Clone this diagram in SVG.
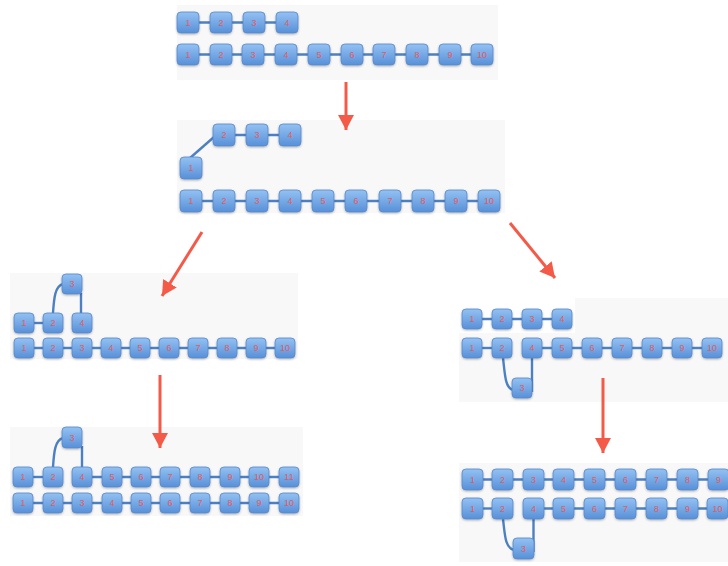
<svg xmlns="http://www.w3.org/2000/svg" width="728" height="566" viewBox="0 0 728 566">
  <defs>
    <linearGradient id="boxFill" x1="0" y1="0" x2="0" y2="1">
      <stop offset="0" stop-color="#93c1f2"/>
      <stop offset="1" stop-color="#5890d8"/>
    </linearGradient>
    <filter id="shadow" x="-20%" y="-20%" width="140%" height="150%">
      <feDropShadow dx="0" dy="1" stdDeviation="0.8" flood-color="#000" flood-opacity="0.3"/>
    </filter>
    <marker id="head" markerUnits="userSpaceOnUse" markerWidth="17" markerHeight="17" refX="15" refY="8" orient="auto">
      <path d="M0,0 L15,8 L0,16 Z" fill="#f45a48"/>
    </marker>
  </defs>
  <style>
    .panel { fill: #f8f8f8; }
    .box { fill: url(#boxFill); stroke: #5588cc; stroke-width: 0.8; filter: url(#shadow); }
    .lbl { font-family: "Liberation Sans", Arial, sans-serif; font-size: 9px; fill: #e35a5f; text-anchor: middle; dominant-baseline: central; }
    .link { stroke: #4d80c2; stroke-width: 2.4; fill: none; }
    .arrow { stroke: #f45a48; stroke-width: 3; fill: none; marker-end: url(#head); }
  </style>

  <!-- panel backgrounds -->
  <g id="backgrounds">
    <rect class="panel" x="177" y="5" width="321" height="75"/>
    <rect class="panel" x="177" y="120" width="328" height="93"/>
    <rect class="panel" x="10" y="273" width="288" height="86"/>
    <rect class="panel" x="10" y="427" width="293" height="89"/>
    <rect class="panel" x="575" y="298" width="153" height="104"/>
    <rect class="panel" x="459" y="333" width="269" height="69"/>
    <rect class="panel" x="459" y="463" width="269" height="99"/>
  </g>

  <!-- connectors -->
  <g id="connectors">
    <!-- panel 1 -->
    <line class="link" x1="188" y1="22.5" x2="287" y2="22.5"/>
    <line class="link" x1="188" y1="54.5" x2="482" y2="54.5"/>
    <!-- panel 2 -->
    <line class="link" x1="190" y1="158" x2="214" y2="137"/>
    <line class="link" x1="224" y1="135" x2="290" y2="135"/>
    <line class="link" x1="191" y1="201" x2="489" y2="201"/>
    <!-- panel 3 -->
    <line class="link" x1="24" y1="323" x2="53" y2="323"/>
    <path class="link" d="M53,313 C54,298 55,286 63,284"/>
    <line class="link" x1="81" y1="313" x2="81" y2="293"/>
    <line class="link" x1="24" y1="348" x2="285" y2="348"/>
    <!-- panel 4 -->
    <line class="link" x1="23" y1="477" x2="53" y2="477"/>
    <path class="link" d="M53,467 C54,452 55,440 63,438"/>
    <line class="link" x1="82" y1="467" x2="82" y2="446"/>
    <line class="link" x1="82" y1="477" x2="289" y2="477"/>
    <line class="link" x1="23" y1="503" x2="289" y2="503"/>
    <!-- panel 5 -->
    <line class="link" x1="472" y1="319" x2="562" y2="319"/>
    <line class="link" x1="472" y1="348" x2="502" y2="348"/>
    <line class="link" x1="532" y1="348" x2="712" y2="348"/>
    <path class="link" d="M503,358 C505,374 505,388 513,390"/>
    <line class="link" x1="532" y1="358" x2="532" y2="392"/>
    <!-- panel 6 -->
    <line class="link" x1="472" y1="479.5" x2="718" y2="479.5"/>
    <line class="link" x1="472" y1="508.5" x2="502" y2="508.5"/>
    <line class="link" x1="533" y1="508.5" x2="717" y2="508.5"/>
    <path class="link" d="M503,519 C505,535 505,548 514,550"/>
    <line class="link" x1="533.5" y1="519" x2="533.5" y2="552"/>
  </g>

  <!-- arrows between stages -->
  <g id="arrows">
    <line class="arrow" x1="346" y1="82" x2="346" y2="130"/>
    <line class="arrow" x1="202" y1="232" x2="162" y2="296"/>
    <line class="arrow" x1="510" y1="223" x2="555" y2="278"/>
    <line class="arrow" x1="160" y1="375" x2="160" y2="448"/>
    <line class="arrow" x1="603" y1="378" x2="603" y2="453"/>
  </g>

  <!-- stage 1 -->
  <g id="p1a1"><rect class="box" x="177" y="12" width="22" height="21" rx="4"/><text class="lbl" x="188" y="22.5">1</text></g>
  <g id="p1a2"><rect class="box" x="210" y="12" width="22" height="21" rx="4"/><text class="lbl" x="221" y="22.5">2</text></g>
  <g id="p1a3"><rect class="box" x="243" y="12" width="22" height="21" rx="4"/><text class="lbl" x="254" y="22.5">3</text></g>
  <g id="p1a4"><rect class="box" x="276" y="12" width="22" height="21" rx="4"/><text class="lbl" x="287" y="22.5">4</text></g>
  <g id="p1b1"><rect class="box" x="177" y="44" width="22" height="21" rx="4"/><text class="lbl" x="188" y="54.5">1</text></g>
  <g id="p1b2"><rect class="box" x="210" y="44" width="22" height="21" rx="4"/><text class="lbl" x="221" y="54.5">2</text></g>
  <g id="p1b3"><rect class="box" x="242" y="44" width="22" height="21" rx="4"/><text class="lbl" x="253" y="54.5">3</text></g>
  <g id="p1b4"><rect class="box" x="275" y="44" width="22" height="21" rx="4"/><text class="lbl" x="286" y="54.5">4</text></g>
  <g id="p1b5"><rect class="box" x="308" y="44" width="22" height="21" rx="4"/><text class="lbl" x="319" y="54.5">5</text></g>
  <g id="p1b6"><rect class="box" x="341" y="44" width="22" height="21" rx="4"/><text class="lbl" x="352" y="54.5">6</text></g>
  <g id="p1b7"><rect class="box" x="373" y="44" width="22" height="21" rx="4"/><text class="lbl" x="384" y="54.5">7</text></g>
  <g id="p1b8"><rect class="box" x="406" y="44" width="22" height="21" rx="4"/><text class="lbl" x="417" y="54.5">8</text></g>
  <g id="p1b9"><rect class="box" x="439" y="44" width="22" height="21" rx="4"/><text class="lbl" x="450" y="54.5">9</text></g>
  <g id="p1b10"><rect class="box" x="471" y="44" width="22" height="21" rx="4"/><text class="lbl" x="482" y="54.5">10</text></g>

  <!-- stage 2 -->
  <g id="p2a1"><rect class="box" x="180" y="157" width="22" height="22" rx="4"/><text class="lbl" x="191" y="168">1</text></g>
  <g id="p2a2"><rect class="box" x="213" y="124" width="22" height="22" rx="4"/><text class="lbl" x="224" y="135">2</text></g>
  <g id="p2a3"><rect class="box" x="246" y="124" width="22" height="22" rx="4"/><text class="lbl" x="257" y="135">3</text></g>
  <g id="p2a4"><rect class="box" x="279" y="124" width="22" height="22" rx="4"/><text class="lbl" x="290" y="135">4</text></g>
  <g id="p2b1"><rect class="box" x="180" y="190" width="22" height="22" rx="4"/><text class="lbl" x="191" y="201">1</text></g>
  <g id="p2b2"><rect class="box" x="213" y="190" width="22" height="22" rx="4"/><text class="lbl" x="224" y="201">2</text></g>
  <g id="p2b3"><rect class="box" x="246" y="190" width="22" height="22" rx="4"/><text class="lbl" x="257" y="201">3</text></g>
  <g id="p2b4"><rect class="box" x="279" y="190" width="22" height="22" rx="4"/><text class="lbl" x="290" y="201">4</text></g>
  <g id="p2b5"><rect class="box" x="312" y="190" width="22" height="22" rx="4"/><text class="lbl" x="323" y="201">5</text></g>
  <g id="p2b6"><rect class="box" x="345" y="190" width="22" height="22" rx="4"/><text class="lbl" x="356" y="201">6</text></g>
  <g id="p2b7"><rect class="box" x="379" y="190" width="22" height="22" rx="4"/><text class="lbl" x="390" y="201">7</text></g>
  <g id="p2b8"><rect class="box" x="412" y="190" width="22" height="22" rx="4"/><text class="lbl" x="423" y="201">8</text></g>
  <g id="p2b9"><rect class="box" x="445" y="190" width="22" height="22" rx="4"/><text class="lbl" x="456" y="201">9</text></g>
  <g id="p2b10"><rect class="box" x="478" y="190" width="22" height="22" rx="4"/><text class="lbl" x="489" y="201">10</text></g>

  <!-- stage 3 (left) -->
  <g id="p3a1"><rect class="box" x="14" y="313" width="20" height="20" rx="4"/><text class="lbl" x="24" y="323">1</text></g>
  <g id="p3a2"><rect class="box" x="43" y="313" width="20" height="20" rx="4"/><text class="lbl" x="53" y="323">2</text></g>
  <g id="p3a3"><rect class="box" x="62" y="274" width="20" height="20" rx="4"/><text class="lbl" x="72" y="284">3</text></g>
  <g id="p3a4"><rect class="box" x="72" y="313" width="20" height="20" rx="4"/><text class="lbl" x="82" y="323">4</text></g>
  <g id="p3b1"><rect class="box" x="14" y="338" width="20" height="20" rx="4"/><text class="lbl" x="24" y="348">1</text></g>
  <g id="p3b2"><rect class="box" x="43" y="338" width="20" height="20" rx="4"/><text class="lbl" x="53" y="348">2</text></g>
  <g id="p3b3"><rect class="box" x="72" y="338" width="20" height="20" rx="4"/><text class="lbl" x="82" y="348">3</text></g>
  <g id="p3b4"><rect class="box" x="101" y="338" width="20" height="20" rx="4"/><text class="lbl" x="111" y="348">4</text></g>
  <g id="p3b5"><rect class="box" x="130" y="338" width="20" height="20" rx="4"/><text class="lbl" x="140" y="348">5</text></g>
  <g id="p3b6"><rect class="box" x="159" y="338" width="20" height="20" rx="4"/><text class="lbl" x="169" y="348">6</text></g>
  <g id="p3b7"><rect class="box" x="188" y="338" width="20" height="20" rx="4"/><text class="lbl" x="198" y="348">7</text></g>
  <g id="p3b8"><rect class="box" x="217" y="338" width="20" height="20" rx="4"/><text class="lbl" x="227" y="348">8</text></g>
  <g id="p3b9"><rect class="box" x="246" y="338" width="20" height="20" rx="4"/><text class="lbl" x="256" y="348">9</text></g>
  <g id="p3b10"><rect class="box" x="275" y="338" width="20" height="20" rx="4"/><text class="lbl" x="285" y="348">10</text></g>

  <!-- stage 4 (left) -->
  <g id="p4a1"><rect class="box" x="13" y="467" width="20" height="20" rx="4"/><text class="lbl" x="23" y="477">1</text></g>
  <g id="p4a2"><rect class="box" x="43" y="467" width="20" height="20" rx="4"/><text class="lbl" x="53" y="477">2</text></g>
  <g id="p4a3"><rect class="box" x="62" y="427" width="20" height="21" rx="4"/><text class="lbl" x="72" y="437.5">3</text></g>
  <g id="p4a4"><rect class="box" x="72" y="467" width="20" height="20" rx="4"/><text class="lbl" x="82" y="477">4</text></g>
  <g id="p4a5"><rect class="box" x="102" y="467" width="20" height="20" rx="4"/><text class="lbl" x="112" y="477">5</text></g>
  <g id="p4a6"><rect class="box" x="131" y="467" width="20" height="20" rx="4"/><text class="lbl" x="141" y="477">6</text></g>
  <g id="p4a7"><rect class="box" x="160" y="467" width="20" height="20" rx="4"/><text class="lbl" x="170" y="477">7</text></g>
  <g id="p4a8"><rect class="box" x="190" y="467" width="20" height="20" rx="4"/><text class="lbl" x="200" y="477">8</text></g>
  <g id="p4a9"><rect class="box" x="220" y="467" width="20" height="20" rx="4"/><text class="lbl" x="230" y="477">9</text></g>
  <g id="p4a10"><rect class="box" x="249" y="467" width="20" height="20" rx="4"/><text class="lbl" x="259" y="477">10</text></g>
  <g id="p4a11"><rect class="box" x="279" y="467" width="20" height="20" rx="4"/><text class="lbl" x="289" y="477">11</text></g>
  <g id="p4b1"><rect class="box" x="13" y="493" width="20" height="20" rx="4"/><text class="lbl" x="23" y="503">1</text></g>
  <g id="p4b2"><rect class="box" x="43" y="493" width="20" height="20" rx="4"/><text class="lbl" x="53" y="503">2</text></g>
  <g id="p4b3"><rect class="box" x="72" y="493" width="20" height="20" rx="4"/><text class="lbl" x="82" y="503">3</text></g>
  <g id="p4b4"><rect class="box" x="102" y="493" width="20" height="20" rx="4"/><text class="lbl" x="112" y="503">4</text></g>
  <g id="p4b5"><rect class="box" x="131" y="493" width="20" height="20" rx="4"/><text class="lbl" x="141" y="503">5</text></g>
  <g id="p4b6"><rect class="box" x="160" y="493" width="20" height="20" rx="4"/><text class="lbl" x="170" y="503">6</text></g>
  <g id="p4b7"><rect class="box" x="190" y="493" width="20" height="20" rx="4"/><text class="lbl" x="200" y="503">7</text></g>
  <g id="p4b8"><rect class="box" x="220" y="493" width="20" height="20" rx="4"/><text class="lbl" x="230" y="503">8</text></g>
  <g id="p4b9"><rect class="box" x="249" y="493" width="20" height="20" rx="4"/><text class="lbl" x="259" y="503">9</text></g>
  <g id="p4b10"><rect class="box" x="279" y="493" width="20" height="20" rx="4"/><text class="lbl" x="289" y="503">10</text></g>

  <!-- stage 3 (right) -->
  <g id="p5a1"><rect class="box" x="462" y="309" width="20" height="20" rx="4"/><text class="lbl" x="472" y="319">1</text></g>
  <g id="p5a2"><rect class="box" x="492" y="309" width="20" height="20" rx="4"/><text class="lbl" x="502" y="319">2</text></g>
  <g id="p5a3"><rect class="box" x="522" y="309" width="20" height="20" rx="4"/><text class="lbl" x="532" y="319">3</text></g>
  <g id="p5a4"><rect class="box" x="552" y="309" width="20" height="20" rx="4"/><text class="lbl" x="562" y="319">4</text></g>
  <g id="p5b1"><rect class="box" x="462" y="338" width="20" height="20" rx="4"/><text class="lbl" x="472" y="348">1</text></g>
  <g id="p5b2"><rect class="box" x="492" y="338" width="20" height="20" rx="4"/><text class="lbl" x="502" y="348">2</text></g>
  <g id="p5b3"><rect class="box" x="512" y="378" width="20" height="20" rx="4"/><text class="lbl" x="522" y="388">3</text></g>
  <g id="p5b4"><rect class="box" x="522" y="338" width="20" height="20" rx="4"/><text class="lbl" x="532" y="348">4</text></g>
  <g id="p5b5"><rect class="box" x="552" y="338" width="20" height="20" rx="4"/><text class="lbl" x="562" y="348">5</text></g>
  <g id="p5b6"><rect class="box" x="582" y="338" width="20" height="20" rx="4"/><text class="lbl" x="592" y="348">6</text></g>
  <g id="p5b7"><rect class="box" x="612" y="338" width="20" height="20" rx="4"/><text class="lbl" x="622" y="348">7</text></g>
  <g id="p5b8"><rect class="box" x="642" y="338" width="20" height="20" rx="4"/><text class="lbl" x="652" y="348">8</text></g>
  <g id="p5b9"><rect class="box" x="672" y="338" width="20" height="20" rx="4"/><text class="lbl" x="682" y="348">9</text></g>
  <g id="p5b10"><rect class="box" x="702" y="338" width="20" height="20" rx="4"/><text class="lbl" x="712" y="348">10</text></g>

  <!-- stage 4 (right) -->
  <g id="p6a1"><rect class="box" x="462" y="469" width="21" height="21" rx="4"/><text class="lbl" x="472.5" y="479.5">1</text></g>
  <g id="p6a2"><rect class="box" x="492" y="469" width="21" height="21" rx="4"/><text class="lbl" x="502.5" y="479.5">2</text></g>
  <g id="p6a3"><rect class="box" x="523" y="469" width="21" height="21" rx="4"/><text class="lbl" x="533.5" y="479.5">3</text></g>
  <g id="p6a4"><rect class="box" x="553" y="469" width="21" height="21" rx="4"/><text class="lbl" x="563.5" y="479.5">4</text></g>
  <g id="p6a5"><rect class="box" x="584" y="469" width="21" height="21" rx="4"/><text class="lbl" x="594.5" y="479.5">5</text></g>
  <g id="p6a6"><rect class="box" x="615" y="469" width="21" height="21" rx="4"/><text class="lbl" x="625.5" y="479.5">6</text></g>
  <g id="p6a7"><rect class="box" x="646" y="469" width="21" height="21" rx="4"/><text class="lbl" x="656.5" y="479.5">7</text></g>
  <g id="p6a8"><rect class="box" x="677" y="469" width="21" height="21" rx="4"/><text class="lbl" x="687.5" y="479.5">8</text></g>
  <g id="p6a9"><rect class="box" x="708" y="469" width="21" height="21" rx="4"/><text class="lbl" x="718.5" y="479.5">9</text></g>
  <g id="p6b1"><rect class="box" x="462" y="498" width="21" height="21" rx="4"/><text class="lbl" x="472.5" y="508.5">1</text></g>
  <g id="p6b2"><rect class="box" x="492" y="498" width="21" height="21" rx="4"/><text class="lbl" x="502.5" y="508.5">2</text></g>
  <g id="p6b3"><rect class="box" x="513" y="538" width="21" height="21" rx="4"/><text class="lbl" x="523.5" y="548.5">3</text></g>
  <g id="p6b4"><rect class="box" x="523" y="498" width="21" height="21" rx="4"/><text class="lbl" x="533.5" y="508.5">4</text></g>
  <g id="p6b5"><rect class="box" x="553" y="498" width="21" height="21" rx="4"/><text class="lbl" x="563.5" y="508.5">5</text></g>
  <g id="p6b6"><rect class="box" x="584" y="498" width="21" height="21" rx="4"/><text class="lbl" x="594.5" y="508.5">6</text></g>
  <g id="p6b7"><rect class="box" x="615" y="498" width="21" height="21" rx="4"/><text class="lbl" x="625.5" y="508.5">7</text></g>
  <g id="p6b8"><rect class="box" x="646" y="498" width="21" height="21" rx="4"/><text class="lbl" x="656.5" y="508.5">8</text></g>
  <g id="p6b9"><rect class="box" x="677" y="498" width="21" height="21" rx="4"/><text class="lbl" x="687.5" y="508.5">9</text></g>
  <g id="p6b10"><rect class="box" x="707" y="498" width="21" height="21" rx="4"/><text class="lbl" x="717.5" y="508.5">10</text></g>
</svg>
